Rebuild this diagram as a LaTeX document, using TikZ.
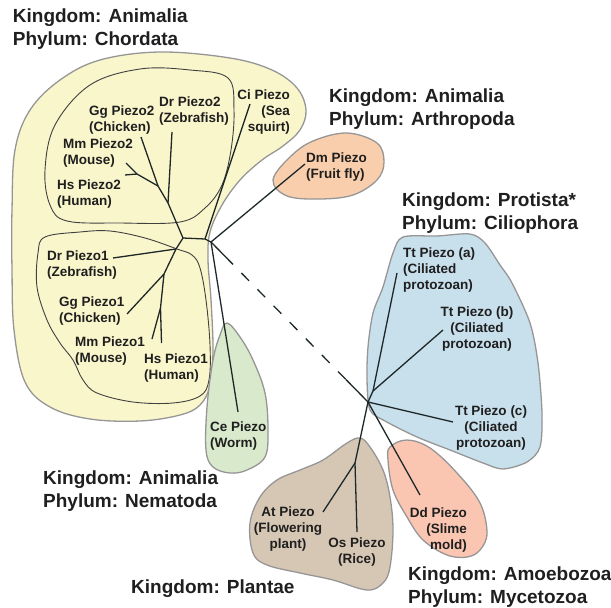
\documentclass[tikz,border=0pt]{standalone}
\usepackage{fontspec}
\setmainfont{Liberation Sans}
\usetikzlibrary{calc}

\definecolor{chordfill}{RGB}{250,246,204}
\definecolor{flyfill}{RGB}{249,206,172}
\definecolor{ciliafill}{RGB}{200,223,236}
\definecolor{wormfill}{RGB}{217,233,203}
\definecolor{plantfill}{RGB}{214,199,180}
\definecolor{mouldfill}{RGB}{250,198,178}
\definecolor{treeline}{RGB}{30,40,40}
\definecolor{rimgray}{RGB}{150,150,150}

\begin{document}
\begin{tikzpicture}[x=1pt,y=-1pt,
    rim/.style={draw=rimgray,line width=1.3pt},
    clade/.style={draw=black!75,line width=0.9pt},
    branch/.style={draw=treeline,line width=1.3pt},
    leaf/.style={font=\fontsize{13.5}{16}\selectfont\bfseries,text=black!88,inner sep=0pt},
    taxon/.style={font=\fontsize{19}{23}\selectfont\bfseries,text=black!88,inner sep=0pt,align=left,anchor=base west}]
    \useasboundingbox (0,0) rectangle (611,608);

    % Chordata, outer region
    \filldraw[rim,fill=chordfill] plot[smooth cycle,tension=0.6] coordinates {
        (12,210) (15,150) (30,110) (60,80) (100,60) (160,52) (230,58) (272,70)
        (297,88) (306,110) (300,130) (283,146) (262,160) (240,180) (222,205)
        (210,232) (208,260) (211,300) (213,350) (210,385) (200,405) (180,415)
        (140,421) (90,419) (50,407) (25,382) (14,330) (12,270)};
    % Piezo2 and Piezo1 groups
    \draw[clade] plot[smooth cycle,tension=0.6] coordinates {
        (45,170) (55,125) (90,85) (140,69) (190,70) (228,78) (234,110) (231,150)
        (222,185) (205,208) (180,222) (120,223) (67,221) (50,205)};
    \draw[clade] plot[smooth cycle,tension=0.6] coordinates {
        (45,237) (80,232) (110,231) (145,238) (177,249) (192,255) (200,268)
        (206,300) (210,345) (209,380) (200,396) (173,403) (133,402) (97,393)
        (83,380) (73,360) (60,343) (47,320) (37,287) (38,253)};
    % Arthropoda
    \filldraw[rim,fill=flyfill] plot[smooth cycle,tension=0.6] coordinates {
        (273,180) (290,157) (313,141) (347,133) (377,143) (384,162) (377,180)
        (353,195) (320,199) (287,196)};
    % Ciliophora
    \filldraw[rim,fill=ciliafill] plot[smooth cycle,tension=0.5] coordinates {
        (403,237) (437,236) (470,234) (485,243) (500,265) (512,283) (530,323)
        (538,363) (542,413) (540,447) (527,462) (503,469) (483,463) (450,450)
        (417,437) (385,421) (370,410) (367,380) (368,347) (373,313) (383,287)
        (393,253)};
    % Nematoda
    \filldraw[rim,fill=wormfill] plot[smooth cycle,tension=0.6] coordinates {
        (227,323) (240,337) (253,360) (265,393) (268,430) (265,457) (247,470)
        (230,473) (213,467) (206,450) (207,407) (213,360) (220,335)};
    % Plantae
    \filldraw[rim,fill=plantfill] plot[smooth cycle,tension=0.6] coordinates {
        (360,438) (370,447) (383,470) (390,497) (393,530) (390,567) (383,583)
        (367,590) (333,580) (300,573) (267,565) (253,553) (250,523) (260,497)
        (277,480) (300,470) (323,460) (347,443)};
    % Mycetozoa
    \filldraw[rim,fill=mouldfill] plot[smooth cycle,tension=0.6] coordinates {
        (390,447) (407,440) (430,448) (457,473) (480,503) (487,533) (480,550)
        (467,557) (447,555) (423,540) (407,517) (393,490) (388,460)};

    % inner nodes of the tree
    \coordinate (root) at (211,242);
    \coordinate (ci) at (205,239);
    \coordinate (vert) at (183,238);
    \coordinate (dr2) at (168,203);
    \coordinate (gg2) at (158,186);
    \coordinate (mh2) at (137,174);
    \coordinate (dr1) at (176,249);
    \coordinate (gg1) at (164,274);
    \coordinate (mh1) at (160.5,308);
    \coordinate (cil) at (368,402);
    \coordinate (tt) at (373,391);
    \coordinate (pl) at (355,463);
    \coordinate (dashA) at ($(root)!0.14!(cil)$);
    \coordinate (dashB) at ($(root)!0.86!(cil)$);
    % leaf tips
    \coordinate (citip) at (250,104);
    \coordinate (dr2tip) at (172,132);
    \coordinate (gg2tip) at (141,137);
    \coordinate (mm2tip) at (126,163);
    \coordinate (hs2tip) at (125,175);
    \coordinate (dr1tip) at (113,258);
    \coordinate (gg1tip) at (127,314);
    \coordinate (mm1tip) at (152,339);
    \coordinate (hs1tip) at (161.5,343);
    \coordinate (dmtip) at (305,164);
    \coordinate (cetip) at (238,412);
    \coordinate (ttatip) at (397,273);
    \coordinate (ttbtip) at (443,330);
    \coordinate (ttctip) at (453,422);
    \coordinate (attip) at (323,512);
    \coordinate (ostip) at (357,532);
    \coordinate (ddtip) at (420,495);

    % chordates
    \draw[branch] (root) -- (ci) -- (vert) -- (dr2) -- (gg2) -- (mh2) -- (mm2tip);
    \draw[branch] (ci) -- (citip);
    \draw[branch] (dr2) -- (dr2tip);
    \draw[branch] (gg2) -- (gg2tip);
    \draw[branch] (mh2) -- (hs2tip);
    \draw[branch] (vert) -- (dr1) -- (gg1) -- (mh1) -- (hs1tip);
    \draw[branch] (dr1) -- (dr1tip);
    \draw[branch] (gg1) -- (gg1tip);
    \draw[branch] (mh1) -- (mm1tip);
    % fly and worm
    \draw[branch] (root) -- (dmtip);
    \draw[branch] (root) -- (cetip);
    % long branch to the rest
    \draw[branch] (root) -- (dashA);
    \draw[branch,dash pattern=on 11pt off 12pt,dash phase=11pt] (dashA) -- (dashB);
    \draw[branch] (dashB) -- (cil);
    \draw[branch] (cil) -- (tt) -- (ttatip);
    \draw[branch] (tt) -- (ttbtip);
    \draw[branch] (cil) -- (ttctip);
    \draw[branch] (cil) -- (pl) -- (attip);
    \draw[branch] (pl) -- (ostip);
    \draw[branch] (cil) -- (ddtip);

    % leaf labels (anchored on the base of their last line)
    \node[leaf,align=left,anchor=base west] (gg2lbl) at (89,131) {Gg Piezo2\\(Chicken)};
    \node[leaf,align=left,anchor=base west] (dr2lbl) at (159,122) {Dr Piezo2\\(Zebrafish)};
    \node[leaf,align=right,anchor=base east] (cilbl) at (290,131) {Ci Piezo\\(Sea\\squirt)};
    \node[leaf,align=left,anchor=base west] (mm2lbl) at (63,164) {Mm Piezo2\\(Mouse)};
    \node[leaf,align=left,anchor=base west] (hs2lbl) at (57,205) {Hs Piezo2\\(Human)};
    \node[leaf,align=left,anchor=base west] (dr1lbl) at (47,276) {Dr Piezo1\\(Zebrafish)};
    \node[leaf,align=left,anchor=base west] (gg1lbl) at (59,322) {Gg Piezo1\\(Chicken)};
    \node[leaf,align=left,anchor=base west] (mm1lbl) at (75,362) {Mm Piezo1\\(Mouse)};
    \node[leaf,align=left,anchor=base west] (hs1lbl) at (144,379) {Hs Piezo1\\(Human)};
    \node[leaf,align=left,anchor=base west] (dmlbl) at (306,178) {Dm Piezo\\(Fruit fly)};
    \node[leaf,align=left,anchor=base west] (celbl) at (210,447) {Ce Piezo\\(Worm)};
    \node[leaf,align=left,anchor=base west] (ttalbl) at (403,289) {Tt Piezo (a)\\(Ciliated\\protozoan)};
    \node[leaf,align=center,anchor=base] (ttblbl) at (477,348) {Tt Piezo (b)\\(Ciliated\\protozoan)};
    \node[leaf,align=center,anchor=base] (ttclbl) at (491,447) {Tt Piezo (c)\\(Ciliated\\protozoan)};
    \node[leaf,align=center,anchor=base] (atlbl) at (288,548) {At Piezo\\(Flowering\\plant)};
    \node[leaf,align=center,anchor=base] (oslbl) at (357,563) {Os Piezo\\(Rice)};
    \node[leaf,align=right,anchor=base east] (ddlbl) at (467,549) {Dd Piezo\\(Slime\\mold)};

    % kingdom and phylum names
    \node[taxon] (chordata) at (12.7,45) {Kingdom: Animalia\\Phylum: Chordata};
    \node[taxon] (arthropoda) at (329,125) {Kingdom: Animalia\\Phylum: Arthropoda};
    \node[taxon] (ciliophora) at (402,229) {Kingdom: Protista*\\Phylum: Ciliophora};
    \node[taxon] (nematoda) at (43,507) {Kingdom: Animalia\\Phylum: Nematoda};
    \node[taxon] (plantae) at (131,593) {Kingdom: Plantae};
    \node[taxon] (mycetozoa) at (408,603) {Kingdom: Amoebozoa\\Phylum: Mycetozoa};
\end{tikzpicture}
\end{document}
